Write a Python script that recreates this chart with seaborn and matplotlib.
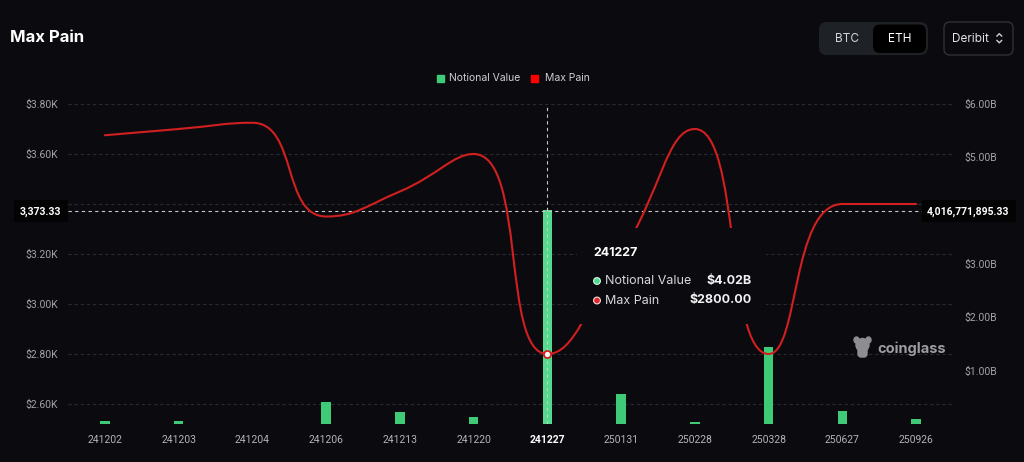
import numpy as np
import pandas as pd
import matplotlib
matplotlib.use("Agg")
import matplotlib.pyplot as plt
import seaborn as sns
from matplotlib.path import Path
from matplotlib.patches import PathPatch, Rectangle, FancyBboxPatch, Circle, Ellipse
from matplotlib.lines import Line2D
from matplotlib.transforms import blended_transform_factory

# ---------------- data ----------------
expiries = ['241202', '241203', '241204', '241206', '241213', '241220',
            '241227', '250131', '250228', '250328', '250627', '250926']
notional_b = [0.05, 0.05, 0.0, 0.42, 0.22, 0.13, 4.0168, 0.56, 0.03, 1.44, 0.24, 0.10]
max_pain = [3675, 3700, 3725, 3350, 3450, 3600, 2800, 3200, 3700, 2800, 3400, 3400]
price_ticks = [2600, 2800, 3000, 3200, 3400, 3600, 3800]
notional_ticks_b = [1, 2, 3, 4, 5, 6]
highlight = '241227'
cross_price = 3373.33
cross_notional = 4016771895.33

# ---------------- style ----------------
BG = '#0b0b0f'
GREEN = '#3fca77'
GREEN_HI = '#55da8d'
RED = '#d21f1f'
GRID = '#2a2b30'
TICK = '#a3a3a6'

sns.set_theme(style='dark', rc={'axes.facecolor': BG, 'figure.facecolor': BG})
plt.rcParams['font.family'] = ['Inter', 'DejaVu Sans']

W, H = 1024, 462
fig = plt.figure(figsize=(W / 100, H / 100), dpi=100, facecolor=BG)
ax = fig.add_axes([68 / W, 1 - 424 / H, (953 - 68) / W, 320 / H])
ax.set_facecolor(BG)
ax2 = ax.twinx()

df = pd.DataFrame({'expiry': expiries, 'notional': np.array(notional_b) * 1e9})
colors = [GREEN_HI if e == highlight else GREEN for e in expiries]
sns.barplot(data=df, x='expiry', y='notional', hue='expiry', order=expiries,
            hue_order=expiries, palette=colors, width=0.13, saturation=1,
            legend=False, ax=ax, zorder=3, linewidth=0, edgecolor='none')

ax.set_xlim(-0.5, len(expiries) - 0.5)
ax.set_ylim(0, 6e9)
ax2.set_ylim(2520, 3800)

# grid lines following the price (left) axis, drawn behind the bars
gtrans = blended_transform_factory(ax.transAxes, ax2.transData)
for p in price_ticks + [2520]:
    ax.add_line(Line2D([0, 1], [p, p], transform=gtrans, color=GRID, lw=0.8,
                       ls=(0, (3, 2.5)), zorder=1))

# axes cosmetics
for a in (ax, ax2):
    for s in a.spines.values():
        s.set_visible(False)
    a.grid(False)
ax.yaxis.tick_right()
ax.yaxis.set_label_position('right')
ax2.yaxis.tick_left()
ax2.yaxis.set_label_position('left')
ax.set_xlabel('')
ax.set_ylabel('')
ax2.set_ylabel('')

# labels hidden behind the crosshair value boxes are left blank
ax.set_yticks([v * 1e9 for v in notional_ticks_b])
ax.set_yticklabels(['' if abs(v * 1e9 - cross_notional) < 0.2e9 else f'${v:.2f}B'
                    for v in notional_ticks_b])
ax2.set_yticks(price_ticks)
ax2.set_yticklabels(['' if abs(v - cross_price) < 40 else f'${v / 1000:.2f}K'
                     for v in price_ticks])

ax.tick_params(axis='y', length=0, pad=8, labelsize=7.5, labelcolor=TICK)
ax2.tick_params(axis='y', length=0, pad=7, labelsize=7.5, labelcolor=TICK)
ax.tick_params(axis='x', length=0, pad=8, labelsize=7.5, labelcolor='#b4b4b8')
for lab in ax.get_yticklabels() + ax2.get_yticklabels() + ax.get_xticklabels():
    lab.set_fontfamily(['Roboto', 'DejaVu Sans'])
for lab in ax.get_xticklabels():
    if lab.get_text() == highlight:
        lab.set_color('white')
        lab.set_fontweight('bold')

# ---------------- smoothed max pain line (echarts-like smoothing) ----------------
sx = (953 - 68) / len(expiries)   # px per category
sy = 320 / (3800 - 2520)          # px per dollar


def smooth_path(xs, ys, smooth=0.5):
    P = np.column_stack([np.asarray(xs, float) * sx, np.asarray(ys, float) * sy])
    n = len(P)
    verts = [tuple(P[0])]
    codes = [Path.MOVETO]
    cp0 = P[0].copy()
    for i in range(1, n):
        x, y = P[i]
        px_, py_ = P[i - 1]
        if i == n - 1:
            cp1 = np.array([x, y])
            nxt_cp0 = np.array([x, y])
        else:
            nx_, ny_ = P[i + 1]
            vx, vy = nx_ - px_, ny_ - py_
            lp = np.hypot(x - px_, y - py_)
            ln = np.hypot(nx_ - x, ny_ - y)
            r = ln / (ln + lp)
            ncx = x + vx * smooth * r
            ncy = y + vy * smooth * r
            ncx = min(ncx, max(nx_, x)); ncy = min(ncy, max(ny_, y))
            ncx = max(ncx, min(nx_, x)); ncy = max(ncy, min(ny_, y))
            vx, vy = ncx - x, ncy - y
            c1x = x - vx * lp / ln
            c1y = y - vy * lp / ln
            c1x = min(c1x, max(px_, x)); c1y = min(c1y, max(py_, y))
            c1x = max(c1x, min(px_, x)); c1y = max(c1y, min(py_, y))
            vx, vy = x - c1x, y - c1y
            ncx = x + vx * ln / lp
            ncy = y + vy * ln / lp
            cp1 = np.array([c1x, c1y])
            nxt_cp0 = np.array([ncx, ncy])
        verts += [tuple(cp0), tuple(cp1), (x, y)]
        codes += [Path.CURVE4] * 3
        cp0 = nxt_cp0
    verts = [(vx_ / sx, vy_ / sy) for vx_, vy_ in verts]
    return Path(verts, codes)


xpos = np.arange(len(expiries))
ax2.add_patch(PathPatch(smooth_path(xpos, max_pain), fill=False, edgecolor=RED,
                        lw=1.5, zorder=4, capstyle='round', joinstyle='round'))

hi = expiries.index(highlight)
# crosshair
ax2.axvline(hi, color='#c8c8cc', lw=0.8, ls=(0, (3, 3)), zorder=3)
ax2.axhline(cross_price, color='#c8c8cc', lw=0.8, ls=(0, (3, 3)), zorder=3)
ax2.scatter([hi], [max_pain[hi]], s=26, facecolor='white', edgecolor=RED,
            linewidth=1.3, zorder=6)

# ---------------- overlay (pixel coordinates) ----------------
ov = fig.add_axes([0, 0, 1, 1], zorder=10)
ov.set_xlim(0, W)
ov.set_ylim(H, 0)
ov.axis('off')
ov.patch.set_visible(False)

# title
ov.text(10, 38, 'Max Pain', fontsize=12, fontweight='bold', color='white',
        ha='left', va='center')

# legend
ov.add_patch(Rectangle((437, 74.5), 7, 7, color=GREEN))
ov.text(449, 78, 'Notional Value', fontsize=7.5, color='#cfcfd2', ha='left', va='center')
ov.add_patch(Rectangle((531, 74.5), 7, 7, color='#ff0000'))
ov.text(545, 78, 'Max Pain', fontsize=7.5, color='#cfcfd2', ha='left', va='center')

# BTC / ETH switch
ov.add_patch(FancyBboxPatch((819, 22), 109, 33, boxstyle='round,pad=0,rounding_size=8',
                            fc='#1e2126', ec='none'))
ov.add_patch(FancyBboxPatch((873, 24.5), 53, 28.5, boxstyle='round,pad=0,rounding_size=7',
                            fc='#000000', ec='none'))
ov.text(847, 38.5, 'BTC', fontsize=8.5, color='#d4d4d8', ha='center', va='center')
ov.text(900, 38.5, 'ETH', fontsize=8.5, color='white', ha='center', va='center')
# exchange selector
ov.add_patch(FancyBboxPatch((944, 22), 69, 33, boxstyle='round,pad=0,rounding_size=6',
                            fc='none', ec='#2e3137', lw=1))
ov.text(970.5, 38.5, 'Deribit', fontsize=8.5, color='#e2e2e6', ha='center', va='center')
ov.add_line(Line2D([996.8, 999.3, 1001.8], [36.2, 33.7, 36.2], color='#cfcfd2', lw=1))
ov.add_line(Line2D([996.8, 999.3, 1001.8], [40.3, 42.8, 40.3], color='#cfcfd2', lw=1))

# crosshair value labels
ov.add_patch(Rectangle((14, 200), 54, 22, fc='#030304', ec='none'))
ov.text(40, 211.5, f'{cross_price:,.2f}', fontsize=7.5, fontweight='bold', color='white',
        ha='center', va='center', family=['Roboto', 'DejaVu Sans'])
ov.add_patch(Rectangle((922, 200), 94, 22, fc='#030304', ec='none'))
ov.text(968, 211.5, f'{cross_notional:,.2f}', fontsize=7.5, fontweight='bold', color='white',
        ha='center', va='center', family=['Roboto', 'DejaVu Sans'])

# tooltip
ov.add_patch(Rectangle((577, 228), 189, 96, fc=BG, ec='none'))
ov.text(593, 253, highlight, fontsize=9, fontweight='bold', color='white',
        ha='left', va='center')
ov.add_patch(Circle((597, 281), 3.4, fc='#4fd98c', ec='#d9f7e5', lw=0.8))
ov.text(605, 281, 'Notional Value', fontsize=9, color='#d8d8dc', ha='left', va='center')
ov.text(752, 281, f'${notional_b[hi]:.2f}B', fontsize=9, fontweight='bold',
        color='#f2f2f4', ha='right', va='center')
ov.add_patch(Circle((597, 300.5), 3.4, fc='#e3262b', ec='#f5dede', lw=0.8))
ov.text(605, 300.5, 'Max Pain', fontsize=9, color='#d8d8dc', ha='left', va='center')
ov.text(752, 300.5, f'${max_pain[hi]:.2f}', fontsize=9, fontweight='bold',
        color='#f2f2f4', ha='right', va='center')

# watermark
WM = '#8e8e92'
ov.add_patch(Ellipse((862.5, 345), 13, 13, color=WM))
ov.add_patch(Ellipse((856.5, 340), 5, 6, color=WM))
ov.add_patch(Ellipse((868.5, 340), 5, 6, color=WM))
ov.add_patch(FancyBboxPatch((858, 347), 9, 10, boxstyle='round,pad=0,rounding_size=3', color=WM))
ov.text(877, 348.5, 'coinglass', fontsize=10.5, fontweight='bold', color='#9d9da1',
        ha='left', va='center')

fig.savefig('out.png', dpi=100, facecolor=BG)
